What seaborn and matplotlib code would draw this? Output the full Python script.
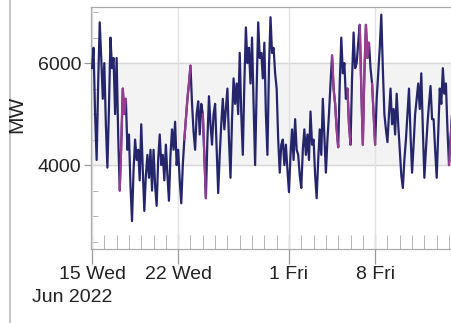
import pandas as pd
import matplotlib
matplotlib.use("Agg")
import matplotlib.pyplot as plt
import matplotlib.dates as mdates
from matplotlib.lines import Line2D
from matplotlib.ticker import MultipleLocator, FixedLocator
import seaborn as sns

# 3-hourly load readings, starting Jun 15 2022 00:00 (MW)
start = "2022-06-15 00:00"
load_mw = [
    5900, 6300, 5000, 4100, 5600, 6800, 6100, 5300,   # Jun 15
    6000, 4800, 3950, 5100, 6500, 5900, 6100, 5000,   # Jun 16
    6100, 4600, 3500, 4400, 5500, 5000, 5300, 4300,   # Jun 17
    4600, 3600, 2900, 3900, 4500, 4100, 4300, 3700,   # Jun 18
    4800, 3900, 3100, 3800, 4200, 3750, 4300, 3500,   # Jun 19
    4300, 3600, 3200, 4100, 4600, 4000, 4200, 3700,   # Jun 20
    4400, 3800, 3300, 4200, 4700, 4300, 4850, 4000,   # Jun 21
    4300, 3700, 3250, 4000, 4500, 4900, 5300, 5600,   # Jun 22
    5950, 5200, 4650, 4300, 5000, 5250, 4600, 5200,   # Jun 23
    5000, 4200, 3350, 4500, 5350, 4800, 4400, 5000,   # Jun 24
    5200, 4300, 3450, 4200, 4800, 5300, 4700, 5100,   # Jun 25
    5500, 4500, 3750, 4900, 5700, 5200, 5600, 5000,   # Jun 26
    6200, 5000, 4200, 5600, 6700, 6000, 6300, 5600,   # Jun 27
    6500, 5200, 4000, 5500, 6800, 6100, 6200, 5700,   # Jun 28
    6400, 5000, 4200, 5900, 6900, 6200, 6300, 5800,   # Jun 29
    5500, 4500, 3850, 4400, 4500, 4000, 4400, 3900,   # Jun 30
    3470, 4200, 4700, 4100, 4900, 4300, 4200, 3800,   # Jul 1
    3550, 4300, 4700, 4200, 4600, 4100, 5050, 4400,   # Jul 2
    4500, 3800, 3350, 4100, 4700, 4200, 5300, 4600,   # Jul 3
    3850, 4500, 5000, 5600, 6150, 5500, 5200, 4700,   # Jul 4
    4350, 5600, 6500, 5800, 6000, 5300, 5500, 4800,   # Jul 5
    4400, 5700, 6600, 5900, 6000, 6400, 6750, 5500,   # Jul 6
    4400, 5800, 6750, 6100, 6400, 5900, 5600, 5000,   # Jul 7
    4400, 5300, 5800, 6300, 6950, 5900, 5000, 4700,   # Jul 8
    4450, 5000, 5500, 4800, 5100, 4600, 5400, 4800,   # Jul 9
    4300, 3800, 3550, 4100, 4500, 5000, 5500, 4600,   # Jul 10
    3850, 4400, 5000, 5300, 5600, 5100, 5800, 4700,   # Jul 11
    3750, 4300, 4800, 5200, 5550, 4900, 4900, 4300,   # Jul 12
    3750, 4600, 5500, 5200, 5900, 5400, 5600, 4700,   # Jul 13
    4000, 4500, 5000,                                 # Jul 14
]

# stretches drawn in purple
highlight = [
    ("2022-06-17 06:00", "2022-06-17 18:00"),
    ("2022-06-22 12:00", "2022-06-23 00:00"),
    ("2022-06-24 00:00", "2022-06-24 06:00"),
    ("2022-07-04 12:00", "2022-07-05 00:00"),
    ("2022-07-05 18:00", "2022-07-06 00:00"),
    ("2022-07-06 18:00", "2022-07-07 12:00"),
    ("2022-07-07 18:00", "2022-07-08 00:00"),
    ("2022-07-14 00:00", "2022-07-14 06:00"),
]

week_ticks = ["2022-06-15", "2022-06-22", "2022-07-01", "2022-07-08"]
week_labels = ["15 Wed", "22 Wed", "1 Fri", "8 Fri"]

times = pd.date_range(start, periods=len(load_mw), freq="3h")
df = pd.DataFrame({"time": times, "MW": load_mw})

sns.set_theme(style="white")
plt.rcParams["font.family"] = ["Liberation Sans", "DejaVu Sans"]

navy = "#25256c"
purple = "#9a3c92"
txt = "#222222"

fig = plt.figure(figsize=(4.52, 3.23), dpi=100)
ax = fig.add_axes([0.2013, 0.229, 0.80, 0.749])

ax.axhspan(4000, 6000, color="#f3f3f3", zorder=0)

sns.lineplot(data=df, x="time", y="MW", color=navy, linewidth=1.6, ax=ax, zorder=3)
for a, b in highlight:
    seg = df[(df["time"] >= a) & (df["time"] <= b)]
    sns.lineplot(data=seg, x="time", y="MW", color=purple, linewidth=1.6, ax=ax, zorder=4)

ax.set_ylim(2353, 7098)
ax.set_xlim(pd.Timestamp("2022-06-14 22:00"), pd.Timestamp("2022-07-14 07:00"))

for y in (4000, 6000):
    ax.axhline(y, color="#d6d6d6", linewidth=1, zorder=1)
for d in week_ticks:
    ax.axvline(pd.Timestamp(d), color="#e2e2e2", linewidth=1, zorder=1)

ax.yaxis.set_major_locator(FixedLocator([4000, 6000]))
ax.yaxis.set_minor_locator(MultipleLocator(500))
ax.xaxis.set_major_locator(FixedLocator(mdates.date2num(pd.to_datetime(week_ticks))))
ax.xaxis.set_minor_locator(mdates.DayLocator())
ax.set_xticklabels(week_labels)
ax.set_yticks([4000, 6000])
ax.set_yticklabels(["4000", "6000"])

ax.tick_params(axis="x", which="major", direction="inout", length=22, width=0.9,
               color="#999999", labelsize=14, labelcolor=txt, pad=1)
ax.tick_params(axis="x", which="minor", direction="in", length=10, width=0.7, color="#b5b5b5")
ax.tick_params(axis="y", which="major", direction="out", length=5, width=0.9,
               color="#999999", labelsize=14, labelcolor=txt, pad=2)
ax.tick_params(axis="y", which="minor", direction="in", length=5, width=0.7, color="#b5b5b5")
ax.tick_params(bottom=True, left=True, which="both")

ax.set_xlabel("")
ax.set_ylabel("")
for side in ("left", "bottom", "top"):
    ax.spines[side].set_color("#aaaaaa")
    ax.spines[side].set_linewidth(0.9)
ax.spines["right"].set_visible(False)

fig.text(0.038, 0.645, "MW", rotation=90, ha="center", va="center", fontsize=15, color=txt)
fig.text(0.071, 0.078, "Jun 2022", ha="left", va="center", fontsize=14, color=txt)

fig.add_artist(Line2D([0.022, 0.022], [0.0, 1.0], color="#bbbbbb", linewidth=1.2))

fig.savefig("out.png", dpi=100)
